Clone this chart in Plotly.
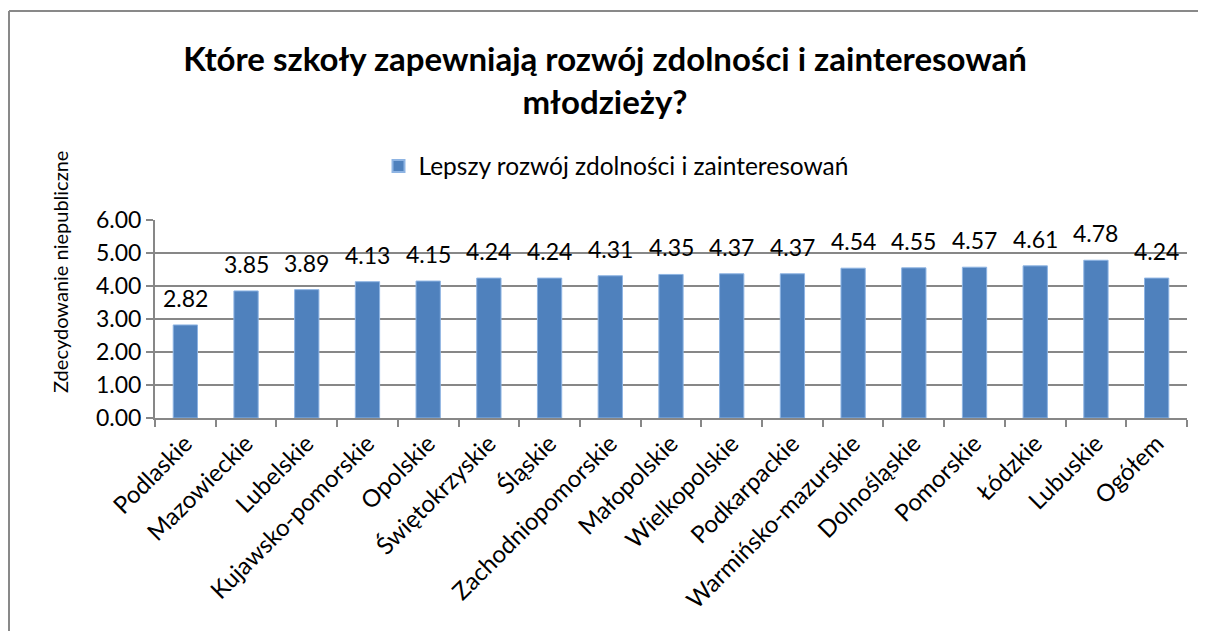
import plotly.graph_objects as go

categories = ["Podlaskie", "Mazowieckie", "Lubelskie", "Kujawsko-pomorskie", "Opolskie",
              "Świętokrzyskie", "Śląskie", "Zachodniopomorskie", "Małopolskie", "Wielkopolskie",
              "Podkarpackie", "Warmińsko-mazurskie", "Dolnośląskie", "Pomorskie", "Łódzkie",
              "Lubuskie", "Ogółem"]
values = [2.82, 3.85, 3.89, 4.13, 4.15, 4.24, 4.24, 4.31, 4.35, 4.37, 4.37,
          4.54, 4.55, 4.57, 4.61, 4.78, 4.24]
series_name = "Lepszy rozwój zdolności i zainteresowań"
title_text = "Które szkoły zapewniają rozwój zdolności i zainteresowań<br>młodzieży?"
y_title = "Zdecydowanie niepubliczne"

# the page body has an 8px margin, so the figure starts at (8, 8) in the screenshot;
# keep it inside the window so no scrollbars appear
OFF = 8
W, H = 1206 - 2 * OFF, 639 - 2 * OFF
L = 155 - OFF
R = W - (1187 - OFF)
T = 220 - OFF
B = H - (418 - OFF)
pw, ph = W - L - R, H - T - B

def px_x(p):
    return (p - OFF - L) / pw

def px_y(p):
    return (H - B - (p - OFF)) / ph

FONT = "Lato, Calibri, Carlito, sans-serif"
GRID = "#878787"
BORDER = "#898989"

fig = go.Figure()
fig.add_trace(go.Bar(
    x=categories, y=values, name=series_name,
    marker=dict(color="#4F81BD", line=dict(color="#8EB4E3", width=1)),
    showlegend=True,
))

for c, v in zip(categories, values):
    fig.add_annotation(x=c, y=v, text=f"{v:.2f}", showarrow=False,
                       yshift=27, yanchor="middle",
                       font=dict(family=FONT, size=23, color="#000"))

fig.add_annotation(xref="paper", yref="paper", x=px_x(60), y=px_y(272),
                   text=y_title, textangle=-90, showarrow=False,
                   xanchor="center", yanchor="middle",
                   font=dict(family=FONT, size=20, color="#000"))

# chart-area frame (only the top and left edges are inside the view)
fig.add_shape(type="line", xref="paper", yref="paper",
              x0=px_x(OFF + 1), x1=px_x(OFF + W), y0=px_y(11), y1=px_y(11),
              line=dict(color=BORDER, width=2), layer="below")
fig.add_shape(type="line", xref="paper", yref="paper",
              x0=px_x(OFF + 1), x1=px_x(OFF + 1), y0=px_y(11), y1=px_y(OFF + H),
              line=dict(color=BORDER, width=2), layer="below")

fig.update_layout(
    width=W, height=H,
    margin=dict(l=L, r=R, t=T, b=B, autoexpand=False),
    paper_bgcolor="white", plot_bgcolor="white",
    title=dict(text=title_text, x=(605 - OFF) / W, xref="container", xanchor="center",
               y=1 - (71 - OFF) / H, yref="container", yanchor="middle",
               font=dict(family=FONT, size=33, color="#000", weight="bold")),
    legend=dict(orientation="h", x=(616 - OFF) / W, xanchor="center", xref="container",
                y=px_y(166), yanchor="middle", yref="paper",
                font=dict(family=FONT, size=24.5, color="#000"),
                itemsizing="constant"),
    bargap=0.6,
    font=dict(family=FONT, size=23, color="#000"),
)
fig.update_xaxes(type="category", tickangle=-45, showgrid=False,
                 showline=True, linecolor=GRID, linewidth=2,
                 ticks="outside", tickson="boundaries", ticklen=7, tickcolor=GRID, tickwidth=2,
                 tickfont=dict(family=FONT, size=24, color="#000"))
fig.update_yaxes(range=[0, 6], dtick=1, tickformat=".2f",
                 showgrid=True, gridcolor=GRID, gridwidth=2,
                 showline=True, linecolor=GRID, linewidth=2,
                 ticks="outside", ticklen=7, tickcolor=GRID, tickwidth=2,
                 zeroline=False,
                 tickfont=dict(family=FONT, size=23, color="#000"))

fig.write_html("out.html")
